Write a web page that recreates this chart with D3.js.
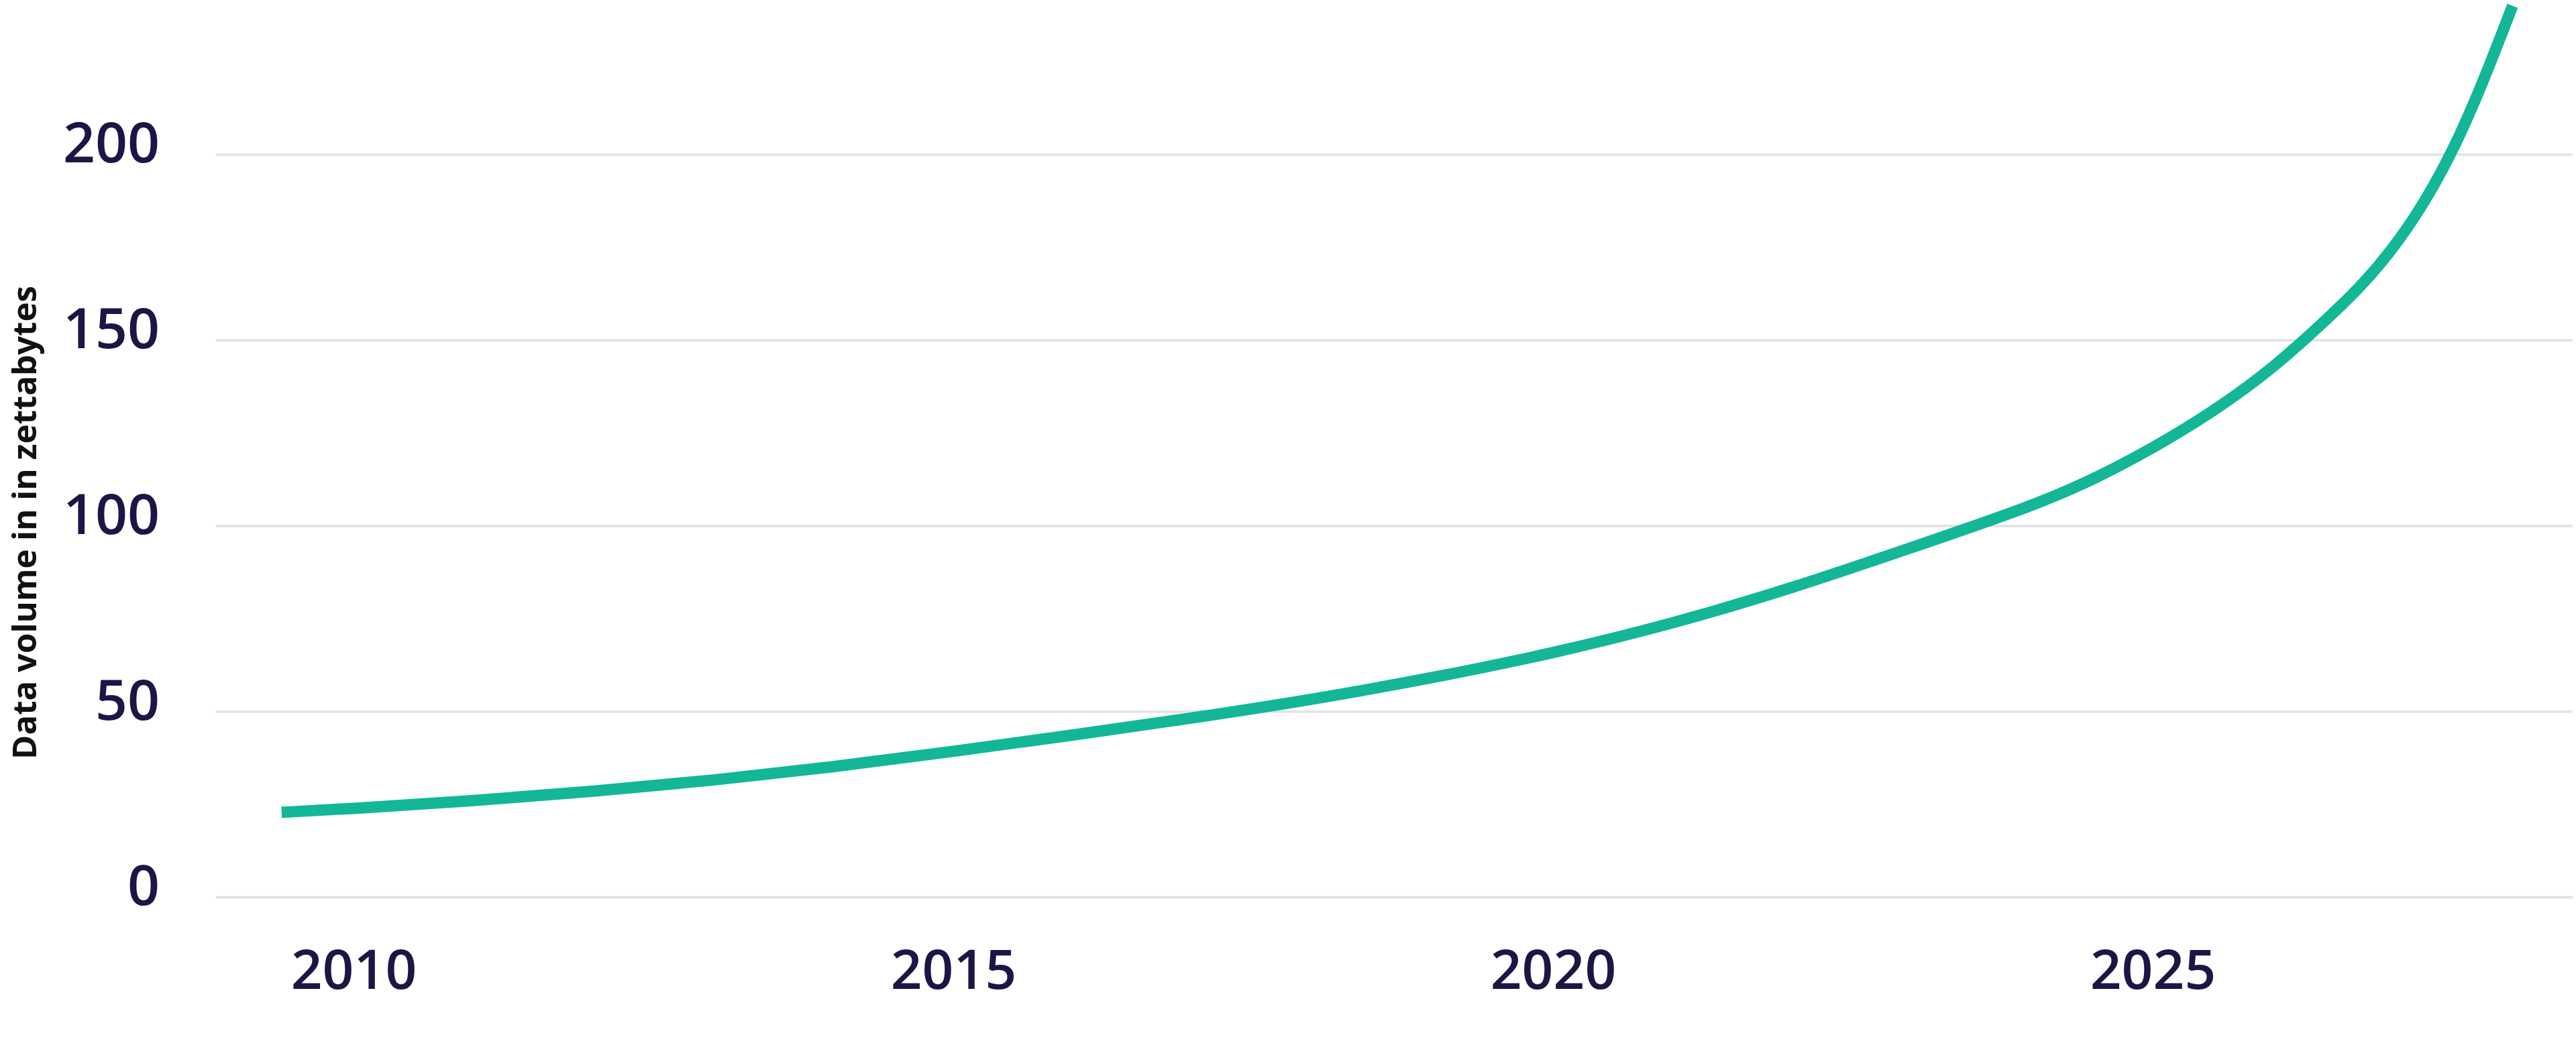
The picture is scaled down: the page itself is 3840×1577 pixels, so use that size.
<!DOCTYPE html>
<html>
<head>
<meta charset="utf-8">
<script src="https://cdn.jsdelivr.net/npm/d3@7/dist/d3.min.js"></script>
<style>
  html, body { margin: 0; padding: 0; background: #fff; }
  svg { display: block; }
  .tick text { font-family: "Open Sans", Lato, sans-serif; font-weight: 600; fill: #1b1646; }
</style>
</head>
<body>
<div id="chart"></div>
<script>
// values (zettabytes); read more densely where the curve gets steep
var years = [2009.4, 2010, 2011, 2012, 2013, 2014, 2015, 2016, 2017, 2018, 2019, 2020, 2021, 2022, 2023, 2024, 2024.5, 2025, 2025.5, 2026, 2026.5, 2026.75, 2027, 2027.25, 2027.5, 2027.75, 2028];
var volumes = [22.8, 23.8, 25.9, 28.4, 31.4, 35.0, 39.2, 43.6, 48.2, 53.2, 59.0, 65.6, 73.6, 83.2, 94.2, 105.3, 112.3, 120.8, 130.6, 142.2, 157.0, 164.9, 174.4, 186.1, 200.6, 219, 240];
var yearTicks = [2010, 2015, 2020, 2025];
var volumeTicks = [0, 50, 100, 150, 200];
var yTitle = "Data volume in in zettabytes";

var width = 3840, height = 1577;

var svg = d3.select("#chart").append("svg")
    .attr("width", width)
    .attr("height", height);

var x = d3.scaleLinear()
    .domain([2010, 2025])
    .range([527, 3209]);

var y = d3.scaleLinear()
    .domain([0, 200])
    .range([1337, 230]);

var gridLeft = 322, gridRight = 3835;

// y axis + gridlines
var yAxis = svg.append("g")
    .attr("transform", "translate(" + gridLeft + ",0)")
    .call(d3.axisLeft(y)
        .tickValues(volumeTicks)
        .tickFormat(d3.format("d"))
        .tickSize(-(gridRight - gridLeft))
        .tickPadding(84));
yAxis.select(".domain").remove();
yAxis.selectAll(".tick line")
    .attr("stroke", "#e4e4e4")
    .attr("stroke-width", 4);
yAxis.selectAll(".tick text")
    .attr("font-size", 84)
    .attr("dy", "0.14em");

// x axis (labels only)
var xAxis = svg.append("g")
    .attr("transform", "translate(0," + y(0) + ")")
    .call(d3.axisBottom(x)
        .tickValues(yearTicks)
        .tickFormat(d3.format("d"))
        .tickSize(0)
        .tickPadding(79));
xAxis.select(".domain").remove();
xAxis.selectAll(".tick text")
    .attr("font-size", 82);

// axis title
svg.append("text")
    .attr("transform", "translate(54,779) rotate(-90)")
    .attr("text-anchor", "middle")
    .attr("font-family", "'Open Sans', sans-serif")
    .attr("font-weight", 700)
    .attr("font-size", 49)
    .attr("fill", "#111")
    .attr("textLength", 706)
    .attr("lengthAdjust", "spacingAndGlyphs")
    .text(yTitle);

// the curve (b-spline through the readings keeps it smooth)
var line = d3.line()
    .x(function(d, i) { return x(years[i]); })
    .y(function(d) { return y(d); })
    .curve(d3.curveBasis);

svg.append("path")
    .attr("fill", "none")
    .attr("stroke", "#13b798")
    .attr("stroke-width", 17)
    .attr("d", line(volumes));
</script>
</body>
</html>
